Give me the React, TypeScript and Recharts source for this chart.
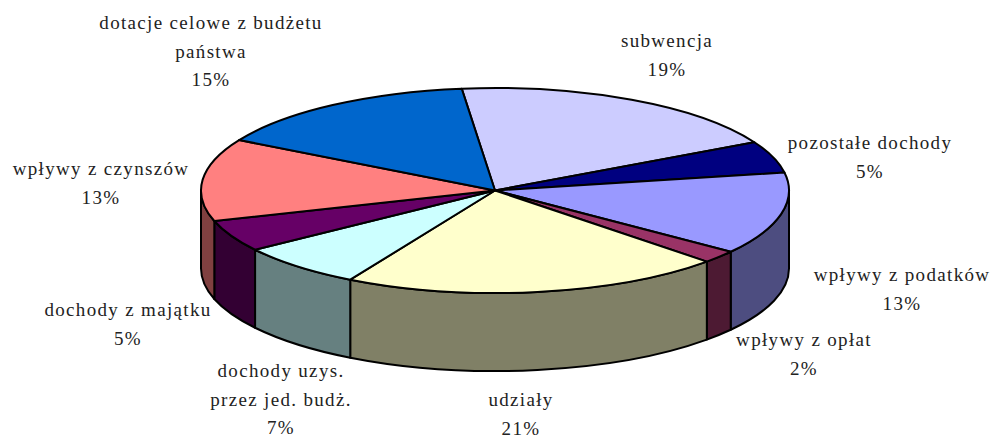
import { Pie, PieChart } from "recharts"

const categories = [
  "subwencja",
  "pozostałe dochody",
  "wpływy z podatków",
  "wpływy z opłat",
  "udziały",
  "dochody uzys. przez jed. budż.",
  "dochody z majątku",
  "wpływy z czynszów",
  "dotacje celowe z budżetu państwa",
]
const shares = [19, 5, 13, 2, 21, 7, 5, 13, 15]
const topColors = ["#CCCCFF", "#000080", "#9999FF", "#993366", "#FFFFCC", "#CCFFFF", "#660066", "#FF8080", "#0066CC"]
const wallColors = ["#666680", "#000040", "#4D4D80", "#4D1A33", "#808066", "#668080", "#330033", "#804040", "#003366"]

// label lines (the percentage is added below them) and where each block sits
const labelLines = [
  ["subwencja"],
  ["pozostałe dochody"],
  ["wpływy z podatków"],
  ["wpływy z opłat"],
  ["udziały"],
  ["dochody uzys.", "przez jed. budż."],
  ["dochody z majątku"],
  ["wpływy z czynszów"],
  ["dotacje celowe z budżetu", "państwa"],
]
const labelAnchors = [
  [667, 47],
  [870, 149],
  [902, 281],
  [804, 346],
  [521, 406],
  [281, 377],
  [128, 316],
  [101, 175],
  [211, 29],
]

const CX = 495
const CY = 190.5
const RADIUS = 294
const SQUASH = 102.5 / 294
const DEPTH = 78
const START_ANGLE = 96.5

const chartData = categories.map((name, i) => ({ name, value: shares[i] }))

const pointAt = (angle: number) => {
  const rad = (angle * Math.PI) / 180
  return [CX + RADIUS * Math.cos(rad), CY - RADIUS * SQUASH * Math.sin(rad)]
}

function TopSlice(props: any) {
  const { startAngle, endAngle, index } = props
  const [x0, y0] = pointAt(startAngle)
  const [x1, y1] = pointAt(endAngle)
  const large = Math.abs(startAngle - endAngle) > 180 ? 1 : 0
  const d = `M${CX},${CY} L${x0},${y0} A${RADIUS},${RADIUS * SQUASH} 0 ${large} 1 ${x1},${y1} Z`
  return <path d={d} fill={topColors[index]} stroke="#000" strokeWidth={2} strokeLinejoin="round" />
}

// only the part of the rim that faces the viewer gets a wall (angles 0 to -180)
function WallSlice(props: any) {
  const { startAngle, endAngle, index } = props
  const from = Math.min(startAngle, 0)
  const to = Math.max(endAngle, -180)
  if (from <= to) return null
  const [x0, y0] = pointAt(from)
  const [x1, y1] = pointAt(to)
  const rx = RADIUS
  const ry = RADIUS * SQUASH
  const d = `M${x0},${y0} A${rx},${ry} 0 0 1 ${x1},${y1} L${x1},${y1 + DEPTH} A${rx},${ry} 0 0 0 ${x0},${y0 + DEPTH} Z`
  return <path d={d} fill={wallColors[index]} stroke="#000" strokeWidth={2} strokeLinejoin="round" />
}

function SliceLabel(props: any) {
  const { index, value } = props
  const [x, y] = labelAnchors[index]
  const lines = [...labelLines[index], `${value}%`]
  return (
    <text
      x={x}
      y={y}
      textAnchor="middle"
      fontFamily="'Liberation Serif', serif"
      fontSize={19}
      letterSpacing={1.33}
      fill="#222"
    >
      {lines.map((line, i) => (
        <tspan key={i} x={x} dy={i === 0 ? 0 : 28.5}>
          {line}
        </tspan>
      ))}
    </text>
  )
}

export default function App() {
  return (
    <div style={{ position: "absolute", left: 0, top: 0, width: 994, height: 436, background: "#fff" }}>
      <PieChart width={994} height={436} margin={{ top: 0, right: 0, bottom: 0, left: 0 }}>
        <Pie
          data={chartData}
          dataKey="value"
          cx={CX}
          cy={CY}
          outerRadius={RADIUS}
          startAngle={START_ANGLE}
          endAngle={START_ANGLE - 360}
          shape={WallSlice}
          isAnimationActive={false}
          label={false}
          labelLine={false}
        />
        <Pie
          data={chartData}
          dataKey="value"
          cx={CX}
          cy={CY}
          outerRadius={RADIUS}
          startAngle={START_ANGLE}
          endAngle={START_ANGLE - 360}
          shape={TopSlice}
          isAnimationActive={false}
          label={SliceLabel}
          labelLine={false}
        />
      </PieChart>
    </div>
  )
}
